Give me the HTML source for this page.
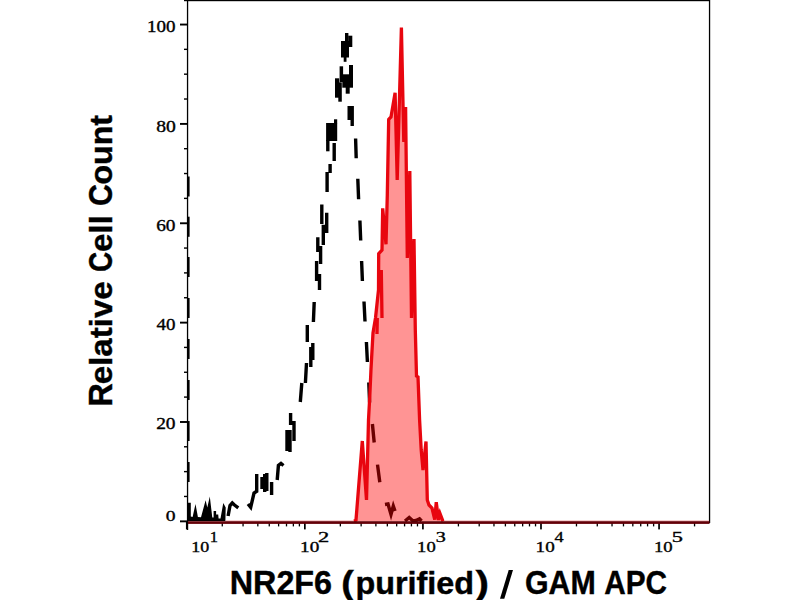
<!DOCTYPE html>
<html><head><meta charset="utf-8"><style>
html,body{margin:0;padding:0;background:#fff;}
body{width:800px;height:600px;overflow:hidden;position:relative;font-family:"Liberation Sans",sans-serif;}
svg{position:absolute;left:0;top:0;}
</style></head><body>
<svg width="800" height="600" viewBox="0 0 800 600">
<rect width="800" height="600" fill="#fff"/>
<rect x="184" y="0" width="526" height="1.2" fill="#000"/>
<rect x="708.9" y="0" width="1.3" height="523" fill="#000"/>
<rect x="186.9" y="0" width="1.3" height="530" fill="#000"/>
<rect x="180" y="520.40" width="8" height="1.9" fill="#000"/>
<rect x="184" y="495.76" width="4" height="1.4" fill="#000"/>
<rect x="184" y="470.92" width="4" height="1.4" fill="#000"/>
<rect x="184" y="446.08" width="4" height="1.4" fill="#000"/>
<rect x="180" y="421.04" width="8" height="1.9" fill="#000"/>
<rect x="184" y="396.40" width="4" height="1.4" fill="#000"/>
<rect x="184" y="371.56" width="4" height="1.4" fill="#000"/>
<rect x="184" y="346.72" width="4" height="1.4" fill="#000"/>
<rect x="180" y="321.68" width="8" height="1.9" fill="#000"/>
<rect x="184" y="297.04" width="4" height="1.4" fill="#000"/>
<rect x="184" y="272.20" width="4" height="1.4" fill="#000"/>
<rect x="184" y="247.36" width="4" height="1.4" fill="#000"/>
<rect x="180" y="222.32" width="8" height="1.9" fill="#000"/>
<rect x="184" y="197.68" width="4" height="1.4" fill="#000"/>
<rect x="184" y="172.84" width="4" height="1.4" fill="#000"/>
<rect x="184" y="148.00" width="4" height="1.4" fill="#000"/>
<rect x="180" y="122.96" width="8" height="1.9" fill="#000"/>
<rect x="184" y="98.32" width="4" height="1.4" fill="#000"/>
<rect x="184" y="73.48" width="4" height="1.4" fill="#000"/>
<rect x="184" y="48.64" width="4" height="1.4" fill="#000"/>
<rect x="180" y="23.60" width="8" height="1.9" fill="#000"/>
<rect x="185.93" y="522" width="1.7" height="7.4" fill="#000"/>
<rect x="221.62" y="522" width="1.3" height="4.4" fill="#000"/>
<rect x="242.41" y="522" width="1.3" height="4.4" fill="#000"/>
<rect x="257.17" y="522" width="1.3" height="4.4" fill="#000"/>
<rect x="268.61" y="522" width="1.3" height="4.4" fill="#000"/>
<rect x="277.96" y="522" width="1.3" height="4.4" fill="#000"/>
<rect x="285.86" y="522" width="1.3" height="4.4" fill="#000"/>
<rect x="292.71" y="522" width="1.3" height="4.4" fill="#000"/>
<rect x="298.75" y="522" width="1.3" height="4.4" fill="#000"/>
<rect x="304.00" y="522" width="1.7" height="7.4" fill="#000"/>
<rect x="339.69" y="522" width="1.3" height="4.4" fill="#000"/>
<rect x="360.48" y="522" width="1.3" height="4.4" fill="#000"/>
<rect x="375.24" y="522" width="1.3" height="4.4" fill="#000"/>
<rect x="386.68" y="522" width="1.3" height="4.4" fill="#000"/>
<rect x="396.03" y="522" width="1.3" height="4.4" fill="#000"/>
<rect x="403.93" y="522" width="1.3" height="4.4" fill="#000"/>
<rect x="410.78" y="522" width="1.3" height="4.4" fill="#000"/>
<rect x="416.82" y="522" width="1.3" height="4.4" fill="#000"/>
<rect x="422.07" y="522" width="1.7" height="7.4" fill="#000"/>
<rect x="457.76" y="522" width="1.3" height="4.4" fill="#000"/>
<rect x="478.55" y="522" width="1.3" height="4.4" fill="#000"/>
<rect x="493.31" y="522" width="1.3" height="4.4" fill="#000"/>
<rect x="504.75" y="522" width="1.3" height="4.4" fill="#000"/>
<rect x="514.10" y="522" width="1.3" height="4.4" fill="#000"/>
<rect x="522.00" y="522" width="1.3" height="4.4" fill="#000"/>
<rect x="528.85" y="522" width="1.3" height="4.4" fill="#000"/>
<rect x="534.89" y="522" width="1.3" height="4.4" fill="#000"/>
<rect x="540.14" y="522" width="1.7" height="7.4" fill="#000"/>
<rect x="575.83" y="522" width="1.3" height="4.4" fill="#000"/>
<rect x="596.62" y="522" width="1.3" height="4.4" fill="#000"/>
<rect x="611.38" y="522" width="1.3" height="4.4" fill="#000"/>
<rect x="622.82" y="522" width="1.3" height="4.4" fill="#000"/>
<rect x="632.17" y="522" width="1.3" height="4.4" fill="#000"/>
<rect x="640.07" y="522" width="1.3" height="4.4" fill="#000"/>
<rect x="646.92" y="522" width="1.3" height="4.4" fill="#000"/>
<rect x="652.96" y="522" width="1.3" height="4.4" fill="#000"/>
<rect x="658.21" y="522" width="1.7" height="7.4" fill="#000"/>
<rect x="693.90" y="522" width="1.3" height="4.4" fill="#000"/>
<text x="146.93" y="31.90" font-family="Liberation Serif, serif" font-size="15.8" textLength="28.49" lengthAdjust="spacingAndGlyphs" fill="#000" stroke="#000" stroke-width="0.35">100</text>
<text x="156.15" y="131.60" font-family="Liberation Serif, serif" font-size="15.8" textLength="19.59" lengthAdjust="spacingAndGlyphs" fill="#000" stroke="#000" stroke-width="0.35">80</text>
<text x="156.17" y="230.60" font-family="Liberation Serif, serif" font-size="15.8" textLength="19.32" lengthAdjust="spacingAndGlyphs" fill="#000" stroke="#000" stroke-width="0.35">60</text>
<text x="156.63" y="330.00" font-family="Liberation Serif, serif" font-size="15.8" textLength="18.89" lengthAdjust="spacingAndGlyphs" fill="#000" stroke="#000" stroke-width="0.35">40</text>
<text x="156.15" y="429.30" font-family="Liberation Serif, serif" font-size="15.8" textLength="19.39" lengthAdjust="spacingAndGlyphs" fill="#000" stroke="#000" stroke-width="0.35">20</text>
<text x="165.75" y="521.00" font-family="Liberation Serif, serif" font-size="15.2" textLength="9.79" lengthAdjust="spacingAndGlyphs" fill="#000" stroke="#000" stroke-width="0.35">0</text>
<text x="191.22" y="551.90" font-family="Liberation Serif, serif" font-size="14.7" textLength="17.96" lengthAdjust="spacingAndGlyphs" fill="#000" stroke="#000" stroke-width="0.35">10</text>
<text x="209.75" y="542.00" font-family="Liberation Serif, serif" font-size="14.7" textLength="8.24" lengthAdjust="spacingAndGlyphs" fill="#000" stroke="#000" stroke-width="0.35">1</text>
<text x="300.07" y="551.90" font-family="Liberation Serif, serif" font-size="14.7" textLength="19.16" lengthAdjust="spacingAndGlyphs" fill="#000" stroke="#000" stroke-width="0.35">10</text>
<text x="318.01" y="542.00" font-family="Liberation Serif, serif" font-size="14.7" textLength="11.23" lengthAdjust="spacingAndGlyphs" fill="#000" stroke="#000" stroke-width="0.35">2</text>
<text x="417.12" y="551.90" font-family="Liberation Serif, serif" font-size="14.7" textLength="18.59" lengthAdjust="spacingAndGlyphs" fill="#000" stroke="#000" stroke-width="0.35">10</text>
<text x="435.74" y="542.00" font-family="Liberation Serif, serif" font-size="14.7" textLength="10.05" lengthAdjust="spacingAndGlyphs" fill="#000" stroke="#000" stroke-width="0.35">3</text>
<text x="535.62" y="551.90" font-family="Liberation Serif, serif" font-size="14.7" textLength="19.11" lengthAdjust="spacingAndGlyphs" fill="#000" stroke="#000" stroke-width="0.35">10</text>
<text x="554.64" y="542.00" font-family="Liberation Serif, serif" font-size="14.7" textLength="9.14" lengthAdjust="spacingAndGlyphs" fill="#000" stroke="#000" stroke-width="0.35">4</text>
<text x="653.96" y="551.90" font-family="Liberation Serif, serif" font-size="14.7" textLength="18.65" lengthAdjust="spacingAndGlyphs" fill="#000" stroke="#000" stroke-width="0.35">10</text>
<text x="671.70" y="542.00" font-family="Liberation Serif, serif" font-size="14.7" textLength="11.17" lengthAdjust="spacingAndGlyphs" fill="#000" stroke="#000" stroke-width="0.35">5</text>
<text x="229.74" y="593.60" font-family="Liberation Sans, sans-serif" font-weight="bold" font-size="32.7" textLength="102.33" lengthAdjust="spacingAndGlyphs" fill="#000" stroke="#000" stroke-width="0.4">NR2F6</text>
<text x="341.31" y="593.60" font-family="Liberation Sans, sans-serif" font-weight="bold" font-size="32.7" textLength="12.63" lengthAdjust="spacingAndGlyphs" fill="#000" stroke="#000" stroke-width="0.4">(</text>
<text x="355.47" y="593.60" font-family="Liberation Sans, sans-serif" font-weight="bold" font-size="31.0" textLength="118.56" lengthAdjust="spacingAndGlyphs" fill="#000" stroke="#000" stroke-width="0.4">purified</text>
<text x="475.46" y="593.60" font-family="Liberation Sans, sans-serif" font-weight="bold" font-size="32.7" textLength="13.45" lengthAdjust="spacingAndGlyphs" fill="#000" stroke="#000" stroke-width="0.4">)</text>
<text x="525.01" y="593.60" font-family="Liberation Sans, sans-serif" font-weight="bold" font-size="32.7" textLength="70.77" lengthAdjust="spacingAndGlyphs" fill="#000" stroke="#000" stroke-width="0.4">GAM</text>
<text x="604.26" y="593.60" font-family="Liberation Sans, sans-serif" font-weight="bold" font-size="32.7" textLength="62.80" lengthAdjust="spacingAndGlyphs" fill="#000" stroke="#000" stroke-width="0.4">APC</text>
<path d="M508.7 570 L513 570 L504.3 598.7 L500 598.7 Z" fill="#000"/>
<text transform="translate(111.6,404.7) rotate(-90)" x="-2.18" y="0" font-family="Liberation Sans, sans-serif" font-weight="bold" font-size="32.6" textLength="23.55" lengthAdjust="spacingAndGlyphs" fill="#000" stroke="#000" stroke-width="0.4">R</text>
<text transform="translate(111.6,404.7) rotate(-90)" x="20.51" y="0" font-family="Liberation Sans, sans-serif" font-weight="bold" font-size="31.0" textLength="102.82" lengthAdjust="spacingAndGlyphs" fill="#000" stroke="#000" stroke-width="0.4">elative</text>
<text transform="translate(111.6,404.7) rotate(-90)" x="132.75" y="0" font-family="Liberation Sans, sans-serif" font-weight="bold" font-size="32.6" textLength="20.21" lengthAdjust="spacingAndGlyphs" fill="#000" stroke="#000" stroke-width="0.4">C</text>
<text transform="translate(111.6,404.7) rotate(-90)" x="152.81" y="0" font-family="Liberation Sans, sans-serif" font-weight="bold" font-size="31.0" textLength="36.73" lengthAdjust="spacingAndGlyphs" fill="#000" stroke="#000" stroke-width="0.4">ell</text>
<text transform="translate(111.6,404.7) rotate(-90)" x="198.66" y="0" font-family="Liberation Sans, sans-serif" font-weight="bold" font-size="32.6" textLength="21.87" lengthAdjust="spacingAndGlyphs" fill="#000" stroke="#000" stroke-width="0.4">C</text>
<text transform="translate(111.6,404.7) rotate(-90)" x="220.14" y="0" font-family="Liberation Sans, sans-serif" font-weight="bold" font-size="31.0" textLength="69.65" lengthAdjust="spacingAndGlyphs" fill="#000" stroke="#000" stroke-width="0.4">ount</text>
<rect x="187.1" y="176.5" width="2.5" height="20.0" fill="#000"/>
<rect x="187.1" y="216.7" width="2.5" height="20.100000000000023" fill="#000"/>
<rect x="187.1" y="257" width="2.5" height="20" fill="#000"/>
<rect x="187.1" y="298" width="2.5" height="20" fill="#000"/>
<rect x="187.1" y="339" width="2.5" height="20" fill="#000"/>
<rect x="187.1" y="380" width="2.5" height="20" fill="#000"/>
<rect x="187.1" y="421" width="2.5" height="20" fill="#000"/>
<rect x="187.1" y="462" width="2.5" height="20" fill="#000"/>
<path d="M187.7 521 L187.7 502.8 L190.8 502.8 L190.8 516.5 L192.6 517 L195.5 504 L197.9 517 L201 517.3 L205.6 500.3 L207.3 507.5 L209.8 496.6 L212.3 517.5 L213.6 517.5 L213.6 511 L216.1 511 L216.1 514.6 L218.2 514.6 L218.6 518.5 L220.5 518.5 L223.3 502.9 L225.7 507.4 L225.4 521 Z" fill="#000"/>
<g fill="#000"><rect x="326.1" y="123" width="11.1" height="18"/><rect x="334" y="119.3" width="3.2" height="4"/><rect x="326.1" y="140" width="3.4" height="11.3"/><rect x="341" y="41" width="8.0" height="16.5"/><rect x="345" y="33" width="3.4" height="12.0"/><rect x="348.2" y="35.7" width="4.1" height="11.3"/><rect x="343.7" y="57" width="2.8" height="4.8"/><rect x="339.6" y="66.3" width="3.5" height="15.7"/><rect x="349" y="65" width="4.0" height="21.0"/><rect x="342.3" y="74.3" width="10.7" height="13.4"/><rect x="335" y="78.3" width="4.2" height="19.4"/><rect x="338.3" y="82.3" width="3.5" height="19.4"/><rect x="345.7" y="83.5" width="4.0" height="10.2"/></g>
<path d="M228.1 516 L230 505.5 L232.3 503 L234.5 505 L238.3 507.8 M248 504 L250.7 507.3 L254 493 L256.7 491.3 L256.7 474 M262 477 L262 489 M264.7 474 L264.7 492 M266.8 473 L266.8 491 M271.6 482 L271.6 495 M277.2 480 L278.4 465.5 L281 463.5 L283.5 465.5 M290.6 413 L290.6 425 M294 421 L294 441 M287 430 L287 451 M290 430 L290 452 M300.3 402 L301.8 383 M305.4 383 L306.5 363 M310.8 367 L310.8 347 M312.8 360 L312.8 343 M307.3 342 L307.3 325 M313.4 322 L314.2 302 M319.5 290 L319.5 274 M316.6 281 L316.6 261 M320.6 264 L320.6 246 M317.8 252 L317.8 237.3 M323.3 245 L323.3 224.7 M326.7 233 L326.7 212.7 M321.8 224 L321.8 204.5 M327.1 192 L327.1 172 M330.1 173 L330.1 164 M334.2 161 L334.2 143 M349.2 106 L349.2 120 M352.2 106 L352.2 126 M355.6 138.5 L356.2 158.3 M357.8 178.7 L358.6 199.3 M359.9 220.5 L360.7 240.5 M361.6 261 L362.4 281 M364.0 301.5 L365.0 321.5 M366.4 342 L367.4 362 M368.8 382.5 L369.6 402.5 M372.4 424 L374.2 442.5 M377.5 464.6 L379.8 482.3 M385 504.5 L388 504 L391 514.5 L393.3 506 L395 511 M405 521 L409.2 517.5 L413 521 L416 520.5 L419.5 518.8 L421.5 521" fill="none" stroke="#000" stroke-width="3.4" stroke-linejoin="miter" stroke-linecap="butt"/>
<path d="M354 521.3 L356 520 L362.3 441 L366.5 500 L368.5 420 L369.8 396 L371 369 L373 333 L375.5 318 L378.5 290 L378.7 253.7 L382 250 L382.7 208.3 L386 244.3 L387.3 195 L388.7 119.4 L391 117 L395.1 92.8 L397.2 180 L401.4 27.5 L403.8 142 L405.6 107 L407.3 258 L409.8 171 L411.5 318 L414 239 L415.3 330 L416.5 376 L418 377 L419.6 420 L421.2 450 L423 470 L426 441.5 L427.3 500 L429 505 L432 508 L434.75 519.5 L436.25 502.25 L438.5 520 L440 513.5 L443 521.3 Z" fill="rgba(255,0,0,0.42)" stroke="none"/>
<path d="M354 521.3 L356 520 L362.3 441 L366.5 500 L368.5 420 L369.8 396 L371 369 L373 333 L375.5 318 L378.5 290 L378.7 253.7 L382 250 L382.7 208.3 L386 244.3 L387.3 195 L388.7 119.4 L391 117 L395.1 92.8 L397.2 180 L401.4 27.5 L403.8 142 L405.6 107 L407.3 258 L409.8 171 L411.5 318 L414 239 L415.3 330 L416.5 376 L418 377 L419.6 420 L421.2 450 L423 470 L426 441.5 L427.3 500 L429 505 L432 508 L434.75 519.5 L436.25 502.25 L438.5 520 L440 513.5 L443 521.3" fill="none" stroke="#e8060f" stroke-width="3.3" stroke-linejoin="miter" stroke-miterlimit="4"/>
<path d="M381.3 270 L382 318 M377.3 318 L377 334" fill="none" stroke="#e8060f" stroke-width="3.3"/>
<rect x="226" y="520.4" width="128" height="0.9" fill="#f0b0b0"/>
<rect x="444" y="520.4" width="265" height="0.9" fill="#f0b0b0"/>
<rect x="188" y="521.2" width="521.5" height="2.7" fill="#640008"/>
</svg>
</body></html>
